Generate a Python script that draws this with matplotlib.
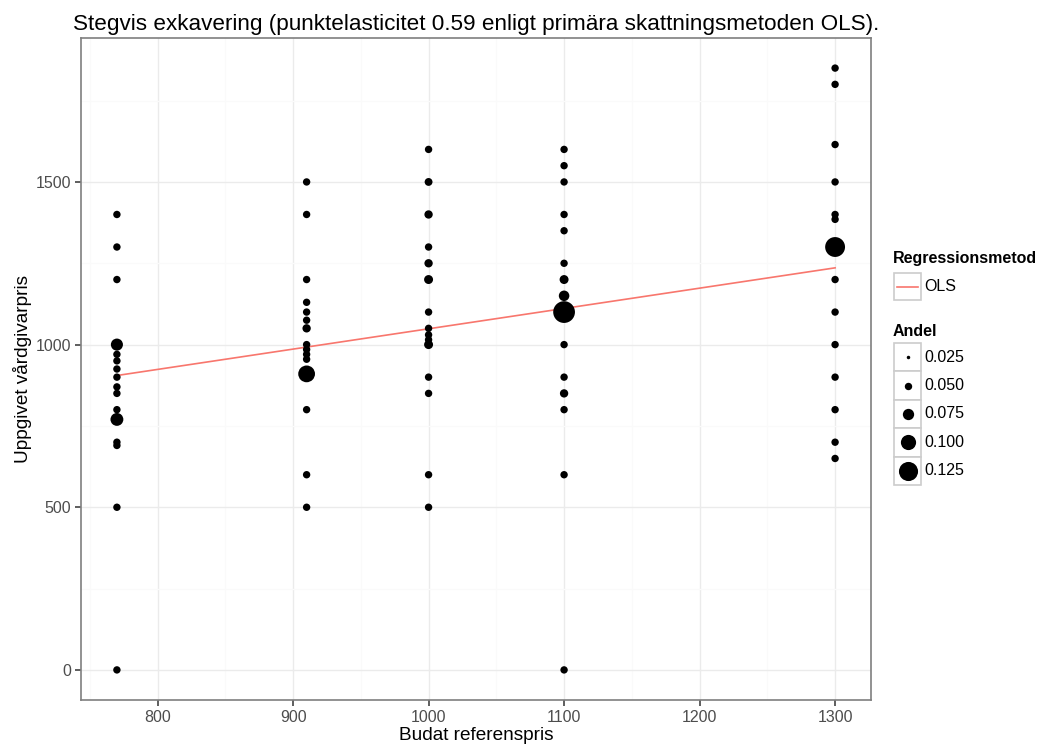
import matplotlib
matplotlib.use("Agg")
import matplotlib.pyplot as plt
from matplotlib.patches import Rectangle
import numpy as np

# Offered reference price (x), reported provider price (y) and share of answers (size)
pris_770 = [1400, 1300, 1200, 1000, 970, 950, 925, 900, 870, 850, 800, 770, 700, 690, 500, 0]
andel_770 = [0.05, 0.05, 0.05, 0.08, 0.05, 0.05, 0.05, 0.05, 0.05, 0.05, 0.05, 0.085, 0.05, 0.05, 0.05, 0.05]

pris_910 = [1500, 1400, 1200, 1130, 1100, 1075, 1050, 1000, 985, 970, 955, 910, 800, 600, 500]
andel_910 = [0.05, 0.05, 0.05, 0.05, 0.05, 0.05, 0.056, 0.05, 0.05, 0.05, 0.05, 0.11, 0.05, 0.05, 0.05]

pris_1000 = [1600, 1500, 1400, 1300, 1250, 1200, 1100, 1050, 1030, 1015, 1000, 900, 850, 600, 500]
andel_1000 = [0.05, 0.053, 0.056, 0.05, 0.056, 0.06, 0.05, 0.05, 0.05, 0.05, 0.06, 0.05, 0.05, 0.05, 0.05]

pris_1100 = [1600, 1550, 1500, 1400, 1350, 1250, 1200, 1150, 1100, 1000, 900, 850, 800, 600, 0]
andel_1100 = [0.05, 0.05, 0.05, 0.05, 0.05, 0.05, 0.06, 0.07, 0.142, 0.05, 0.05, 0.056, 0.05, 0.05, 0.05]

pris_1300 = [1850, 1800, 1615, 1500, 1400, 1385, 1300, 1200, 1100, 1000, 900, 800, 700, 650]
andel_1300 = [0.05, 0.05, 0.05, 0.05, 0.05, 0.05, 0.13, 0.05, 0.05, 0.05, 0.05, 0.05, 0.05, 0.05]

referenspriser = [770, 910, 1000, 1100, 1300]
svar = [pris_770, pris_910, pris_1000, pris_1100, pris_1300]
andelar = [andel_770, andel_910, andel_1000, andel_1100, andel_1300]

# OLS fit of reported price on reference price
ols_intercept = 424.1
ols_slope = 0.6245

legend_andel = [0.025, 0.050, 0.075, 0.100, 0.125]

x_ticks = [800, 900, 1000, 1100, 1200, 1300]
y_ticks = [0, 500, 1000, 1500]

W, H, DPI = 1040, 745, 100
FONT = "Liberation Sans"
plt.rcParams["font.family"] = [FONT, "DejaVu Sans"]


def marker_area(a):
    """Map a share to a scatter marker area (pt^2)."""
    d_px = 3.5 + (np.asarray(a) - 0.025) * 156
    return (d_px * 72 / DPI) ** 2


fig = plt.figure(figsize=(W / DPI, H / DPI), dpi=DPI)
fig.patch.set_facecolor("white")

# panel box in pixels
left, right, top, bottom = 81, 871, 38, 700
ax = fig.add_axes([left / W, 1 - bottom / H, (right - left) / W, (bottom - top) / H])

xs = np.concatenate([[x] * len(p) for x, p in zip(referenspriser, svar)])
ys = np.concatenate(svar)
ss = np.concatenate(andelar)

xmin, xmax = min(referenspriser), max(referenspriser)
ymin, ymax = min(ys.min(), 0), ys.max()
xpad = 0.05 * (xmax - xmin)
ypad = 0.05 * (ymax - ymin)
ax.set_xlim(xmin - xpad, xmax + xpad)
ax.set_ylim(ymin - ypad, ymax + ypad)

# grid
ax.set_xticks(x_ticks)
ax.set_yticks(y_ticks)
ax.set_xticks([750 + 100 * i for i in range(6)], minor=True)
ax.set_yticks([250, 750, 1250, 1750], minor=True)
ax.grid(which="major", color="#EBEBEB", lw=1.0, zorder=0)
ax.grid(which="minor", color="#FAFAFA", lw=1.0, zorder=0)
ax.set_axisbelow(True)

ax.scatter(xs, ys, s=marker_area(ss), color="black", linewidths=0, zorder=3)

xl = np.array([xmin, xmax])
ax.plot(xl, ols_intercept + ols_slope * xl, color="#F8766D", lw=1.2, zorder=2)

for sp in ax.spines.values():
    sp.set_color("#7F7F7F")
    sp.set_linewidth(1.2)

ax.tick_params(which="major", length=4.5, width=1.1, color="#333333",
               labelsize=11.5, labelcolor="#4D4D4D", pad=2.5)
ax.tick_params(which="minor", length=0)

ax.set_xlabel("Budat referenspris", fontsize=13.7, labelpad=1.5)
ax.set_ylabel("Uppgivet vårdgivarpris", fontsize=13.7, labelpad=3)
ax.set_title("Stegvis exkavering (punktelasticitet 0.59 enligt primära skattningsmetoden OLS).",
             fontsize=16.2, loc="center", pad=6)

# legend drawn in pixel coordinates
lg = fig.add_axes([0, 0, 1, 1])
lg.set_xlim(0, W)
lg.set_ylim(H, 0)
lg.axis("off")
lg.patch.set_alpha(0)

lg.text(893, 258, "Regressionsmetod", fontsize=11.5, fontweight="bold", va="center", ha="left")
lg.add_patch(Rectangle((894, 273), 27, 27, facecolor="white", edgecolor="#CCCCCC", lw=1.2))
lg.plot([897, 918], [286.5, 286.5], color="#F8766D", lw=1.2)
lg.text(924, 286.5, "OLS", fontsize=11.5, va="center", ha="left")

lg.text(893, 331, "Andel", fontsize=11.5, fontweight="bold", va="center", ha="left")
box_h = 28.4
for i, a in enumerate(legend_andel):
    y0 = 343 + i * box_h
    lg.add_patch(Rectangle((894, y0), 27, box_h, facecolor="white", edgecolor="#CCCCCC", lw=1.2))
    lg.scatter([907.5], [y0 + box_h / 2], s=marker_area(a), color="black", linewidths=0)
    lg.text(924, y0 + box_h / 2, f"{a:.3f}", fontsize=11.5, va="center", ha="left")

fig.savefig("out.png", dpi=DPI, facecolor="white")
